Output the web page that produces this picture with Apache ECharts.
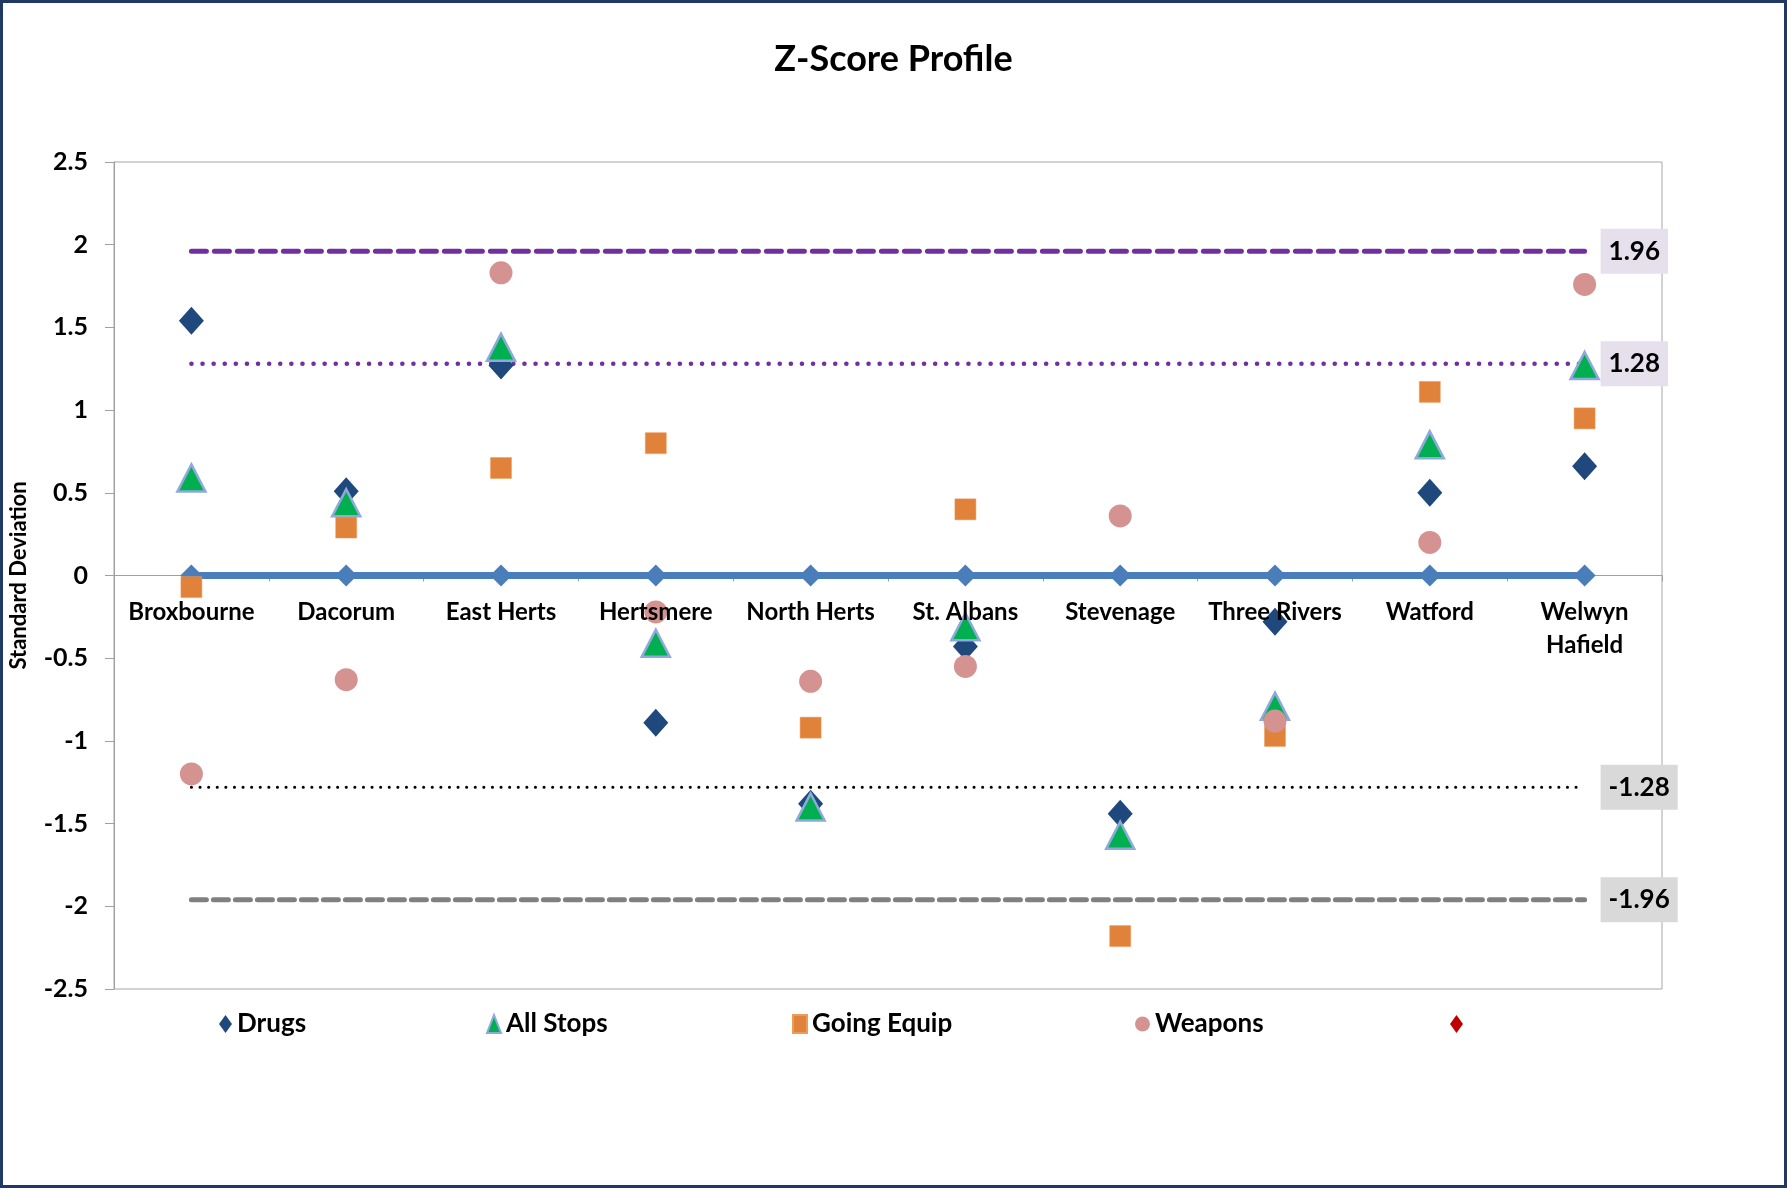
<!DOCTYPE html>
<html>
<head>
<meta charset="utf-8">
<script src="https://cdn.jsdelivr.net/npm/echarts@6/dist/echarts.min.js"></script>
<style>
html,body{margin:0;padding:0;background:#fff;}
#c{width:1787px;height:1188px;}
</style>
</head>
<body>
<div id="c"></div>
<script>
const categories = ['Broxbourne','Dacorum','East Herts','Hertsmere','North Herts','St. Albans','Stevenage','Three Rivers','Watford','Welwyn Hafield'];
const drugs      = [1.54, 0.51, 1.27, -0.89, -1.38, -0.43, -1.44, -0.28, 0.50, 0.66];
const allStops   = [0.59, 0.44, 1.38, -0.41, -1.40, -0.31, -1.57, -0.79, 0.79, 1.27];
const goingEquip = [-0.07, 0.29, 0.65, 0.80, -0.92, 0.40, -2.18, -0.97, 1.11, 0.95];
const weapons    = [-1.20, -0.63, 1.83, -0.22, -0.64, -0.55, 0.36, -0.88, 0.20, 1.76];
const zeroLine   = [0, 0, 0, 0, 0, 0, 0, 0, 0, 0];
const refUpper95 = [1.96, 1.96, 1.96, 1.96, 1.96, 1.96, 1.96, 1.96, 1.96, 1.96];
const refUpper80 = [1.28, 1.28, 1.28, 1.28, 1.28, 1.28, 1.28, 1.28, 1.28, 1.28];
const refLower80 = [-1.28, -1.28, -1.28, -1.28, -1.28, -1.28, -1.28, -1.28, -1.28, -1.28];
const refLower95 = [-1.96, -1.96, -1.96, -1.96, -1.96, -1.96, -1.96, -1.96, -1.96, -1.96];
const yTicks = {min: -2.5, max: 2.5, interval: 0.5};

const FONT = 'Lato, "Noto Sans", sans-serif';
const chart = echarts.init(document.getElementById('c'));

function refLine(name, data, color, type, width, bg) {
  return {
    name: name, type: 'line', data: data, showSymbol: false, symbol: 'none', silent: true,
    z: 1,
    lineStyle: {color: color, type: type, width: width, cap: 'round'},
    endLabel: {
      show: true, distance: 16,
      formatter: p => String(p.value),
      fontFamily: FONT, fontSize: 26, fontWeight: 'bold', color: '#000',
      backgroundColor: bg, padding: [10, 8, 9, 8]
    }
  };
}

function legendAt(name, icon, left, w, h) {
  return {
    data: [name], icon: icon, left: left, top: 1006, itemWidth: w, itemHeight: h,
    selectedMode: false,
    textStyle: {fontFamily: FONT, fontSize: 26, fontWeight: 'bold', color: '#000'}
  };
}

const GRID_TOP = 162, GRID_BOTTOM_Y = 989;
const gridPos = {left: 114, right: 125, top: GRID_TOP, bottom: 1188 - GRID_BOTTOM_Y};
// label axis is lifted from the grid bottom up to the zero value of the y scale
const zeroOffset = -(GRID_BOTTOM_Y - GRID_TOP) * (0 - yTicks.min) / (yTicks.max - yTicks.min);

const option = {
  animation: false,
  backgroundColor: '#fff',
  title: {
    text: 'Z-Score Profile', left: 'center', top: 36,
    textStyle: {fontFamily: FONT, fontSize: 36, fontWeight: 'bold', color: '#000'}
  },
  graphic: [{
    type: 'rect', silent: true, z: 100,
    shape: {x: 1.5, y: 1.5, width: 1784, height: 1185},
    style: {fill: 'none', stroke: '#1F3864', lineWidth: 3}
  }],
  legend: [
    legendAt('Drugs', 'diamond', 214, 13, 18),
    legendAt('All Stops', 'triangle', 481, 14, 18),
    legendAt('Going Equip', 'rect', 787, 14, 18),
    legendAt('Weapons', 'circle', 1130, 15, 18),
    legendAt('\u00a0', 'diamond', 1445, 13, 18)
  ],
  grid: [
    Object.assign({show: true, borderColor: '#A6A6A6', borderWidth: 1, containLabel: false}, gridPos),
    Object.assign({show: false, containLabel: false}, gridPos)
  ],
  xAxis: [{
    gridIndex: 0, type: 'category', data: categories, position: 'bottom', z: 10,
    offset: zeroOffset,
    axisLine: {show: false, onZero: false},
    axisTick: {show: false},
    axisLabel: {
      show: true, interval: 0, margin: 20,
      fontFamily: FONT, fontSize: 24, fontWeight: 'bold', color: '#000', lineHeight: 33,
      formatter: v => v === 'Welwyn Hafield' ? 'Welwyn\nHafield' : v
    },
    splitLine: {show: false}
  }, {
    gridIndex: 1, type: 'category', data: categories, position: 'bottom', z: 0,
    axisLine: {show: true, onZero: true, lineStyle: {color: '#A0A0A0', width: 1}},
    axisTick: {show: true, length: 6, lineStyle: {color: '#A0A0A0'}},
    axisLabel: {show: false},
    splitLine: {show: false}
  }],
  yAxis: [{
    gridIndex: 0, type: 'value', min: yTicks.min, max: yTicks.max, interval: yTicks.interval,
    name: 'Standard Deviation', nameLocation: 'middle', nameGap: 84,
    nameTextStyle: {fontFamily: FONT, fontSize: 22, fontWeight: 'bold', color: '#000'},
    axisLine: {show: true, onZero: false, lineStyle: {color: '#A0A0A0', width: 1}},
    axisTick: {show: true, length: 9, lineStyle: {color: '#A0A0A0'}},
    axisLabel: {fontFamily: FONT, fontSize: 25, fontWeight: 'bold', color: '#000', margin: 26},
    splitLine: {show: false}
  }, {
    gridIndex: 1, type: 'value', min: yTicks.min, max: yTicks.max, interval: yTicks.interval,
    axisLine: {show: false, onZero: false}, axisTick: {show: false}, axisLabel: {show: false},
    splitLine: {show: false}
  }],
  series: [
    {
      name: 'Zero', type: 'line', data: zeroLine, z: 1, silent: true,
      symbol: 'diamond', symbolSize: [22, 22], showSymbol: true,
      lineStyle: {color: '#4A7EBB', width: 7},
      itemStyle: {color: '#4A7EBB'}
    },
    refLine('Upper95', refUpper95, '#7030A0', [15, 8], 5, '#E6E0EC'),
    refLine('Upper80', refUpper80, '#7030A0', [0.1, 11], 4.5, '#E6E0EC'),
    refLine('Lower80', refLower80, '#000000', [0.1, 8.5], 3, '#D9D9D9'),
    refLine('Lower95', refLower95, '#808080', [15, 7], 5, '#D9D9D9'),
    {
      name: 'Drugs', type: 'scatter', data: drugs, z: 3,
      symbol: 'diamond', symbolSize: [25, 28],
      itemStyle: {color: '#1F497D', opacity: 1}
    },
    {
      name: 'All Stops', type: 'scatter', data: allStops, z: 3,
      symbol: 'triangle', symbolSize: [28, 27],
      itemStyle: {color: '#00B050', borderColor: '#8EA9DB', borderWidth: 2.5, opacity: 1}
    },
    {
      name: 'Going Equip', type: 'scatter', data: goingEquip, z: 3,
      symbol: 'rect', symbolSize: [21, 21],
      itemStyle: {color: '#E0823A', borderColor: '#EE9A5A', borderWidth: 0.5, opacity: 1}
    },
    {
      name: 'Weapons', type: 'scatter', data: weapons, z: 3,
      symbol: 'circle', symbolSize: 23,
      itemStyle: {color: '#D49391', opacity: 1}
    },
    {
      name: '\u00a0', type: 'scatter', data: [], z: 3,
      symbol: 'diamond', symbolSize: [13, 18],
      itemStyle: {color: '#C00000', opacity: 1}
    }
  ]
};
chart.setOption(option);
</script>
</body>
</html>
